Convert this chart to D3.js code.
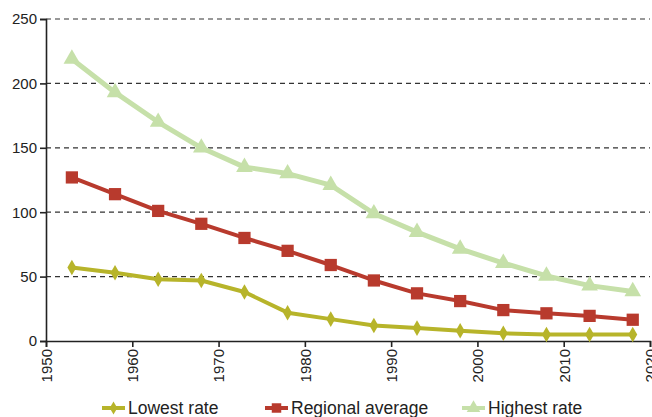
<!DOCTYPE html>
<html>
<head>
<meta charset="utf-8">
<script src="https://cdn.jsdelivr.net/npm/d3@7/dist/d3.min.js"></script>
<style>
  html, body { margin: 0; padding: 0; background: #fff; }
  svg { display: block; font-family: "Liberation Sans", Arial, sans-serif; }
</style>
</head>
<body>
<svg id="chart" width="652" height="417"></svg>
<script>
const years = [1953, 1958, 1963, 1968, 1973, 1978, 1983, 1988, 1993, 1998, 2003, 2008, 2013, 2018];
const lowestRate = [57, 53, 48, 47, 38, 22, 17, 12, 10, 8, 6, 5, 5, 5];
const regionalAverage = [127, 114, 101, 91, 80, 70, 59, 47, 37, 31, 24, 21.5, 19.5, 16.5];
const highestRate = [219, 193, 170, 150, 135, 130, 121, 99, 84.5, 71.5, 60.5, 50.5, 43, 38.5];
const xTicks = [1950, 1960, 1970, 1980, 1990, 2000, 2010, 2020];
const yTicks = [0, 50, 100, 150, 200, 250];
const seriesNames = ["Lowest rate", "Regional average", "Highest rate"];
const seriesColors = ["#b7b42a", "#b83a2d", "#c6e0a9"];

const svg = d3.select("#chart");
const margin = {left: 46, right: 2, top: 19, bottom: 76};
const W = 652, H = 417;
const x = d3.scaleLinear().domain([1950, 2020]).range([margin.left, W - margin.right]);
const y = d3.scaleLinear().domain([0, 250]).range([H - margin.bottom, margin.top]);

// gridlines
svg.append("g").selectAll("line").data(yTicks.filter(d => d > 0)).join("line")
  .attr("x1", x(1950)).attr("x2", x(2020))
  .attr("y1", d => y(d)).attr("y2", d => y(d))
  .attr("stroke", "#333").attr("stroke-width", 1.2).attr("stroke-dasharray", "5,4");

// axes
const yAxis = svg.append("g").attr("transform", `translate(${x(1950)},0)`)
  .call(d3.axisLeft(y).tickValues(yTicks).tickSize(6).tickPadding(3).tickFormat(d3.format("d")));
const xAxis = svg.append("g").attr("transform", `translate(0,${y(0)})`)
  .call(d3.axisBottom(x).tickValues(xTicks).tickSize(6).tickFormat(d3.format("d")));
[yAxis, xAxis].forEach(a => {
  a.select(".domain").attr("stroke", "#222").attr("stroke-width", 1.6);
  a.selectAll(".tick line").attr("stroke", "#222").attr("stroke-width", 1.6);
  a.selectAll("text").attr("fill", "#222").style("font-size", "15px").style("font-family", "Liberation Sans, Arial, sans-serif");
});
xAxis.selectAll("text")
  .attr("transform", "rotate(-90)")
  .attr("text-anchor", "end")
  .attr("x", -8).attr("y", 0).attr("dy", "0.36em");

const data = [lowestRate, regionalAverage, highestRate];
const line = d3.line().x((d, i) => x(years[i])).y(d => y(d));

const sym = [d3.symbolDiamond, d3.symbolSquare, d3.symbolTriangle];
const symSize = [70, 150, 120];

// draw in order: highest first (back), then regional, lowest
[2, 1, 0].forEach(k => {
  const g = svg.append("g");
  g.append("path").datum(data[k]).attr("d", line)
    .attr("fill", "none").attr("stroke", seriesColors[k]).attr("stroke-width", k === 2 ? 5 : 4)
    .attr("stroke-linejoin", "round");
  g.selectAll("path.m").data(data[k]).join("path").attr("class", "m")
    .attr("transform", (d, i) => `translate(${x(years[i])},${y(d)})`)
    .attr("d", d3.symbol().type(sym[k]).size(symSize[k]))
    .attr("fill", seriesColors[k]);
});

// legend
const legendX = [102, 265, 462];
const legendY = 408;
seriesNames.forEach((name, k) => {
  const g = svg.append("g").attr("transform", `translate(${legendX[k]},${legendY})`);
  g.append("line").attr("x1", 0).attr("x2", 23).attr("y1", 0).attr("y2", 0)
    .attr("stroke", seriesColors[k]).attr("stroke-width", 4);
  g.append("path").attr("transform", "translate(11.5,0)")
    .attr("d", d3.symbol().type(sym[k]).size([50, 90, 80][k])).attr("fill", seriesColors[k]);
  g.append("text").attr("x", 26).attr("y", 0).attr("dy", "0.36em")
    .style("font-size", "17.5px").attr("fill", "#222").text(name);
});
</script>
</body>
</html>
